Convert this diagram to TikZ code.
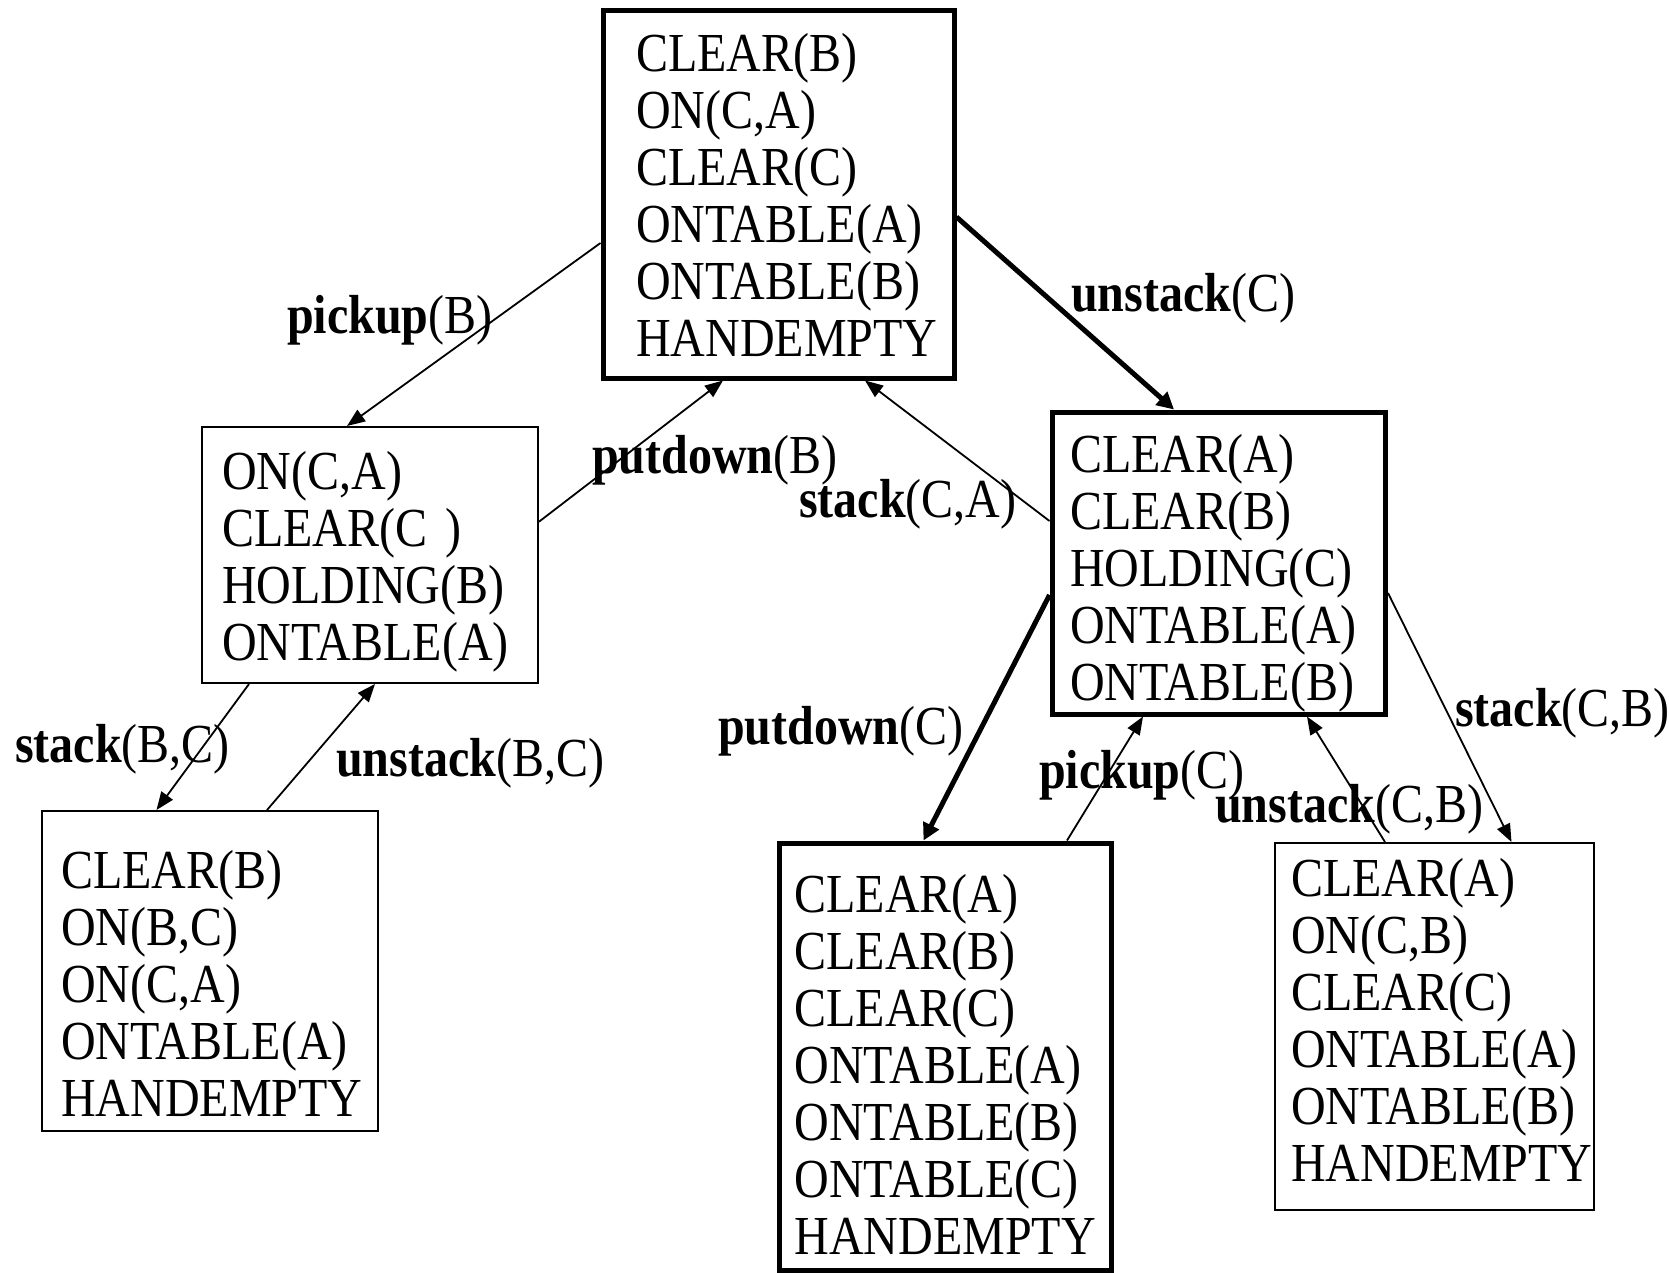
\documentclass[tikz,border=0pt]{standalone}
\usepackage{fontspec}
\setmainfont{Liberation Serif}[FakeStretch=0.873]
\usetikzlibrary{arrows.meta}
\hyphenpenalty=10000
\exhyphenpenalty=10000
\begin{document}
\begin{tikzpicture}[x=1pt,y=-1pt,
  every node/.style={font=\fontsize{55}{57}\selectfont},
  world/.style={draw, rectangle, anchor=base west, align=left, inner ysep=0pt},
  thinbox/.style={line width=2pt},
  thickbox/.style={line width=5pt},
  thinarrow/.style={line width=1.8pt, -{Triangle[length=18pt,width=14pt]}},
  thickarrow/.style={line width=5pt, -{Triangle[length=17pt,width=17pt]}},
  lbl/.style={anchor=base west, inner sep=0pt}]
% page
\fill[white] (0,0) rectangle (1669,1273);
\useasboundingbox (0,0) rectangle (1669,1273);

% states
\node[world, thickbox, inner xsep=33pt, text width=285pt, text height=61pt, text depth=306pt]
  (s0) at (600.5,72) {CLEAR(B)\\ON(C,A)\\CLEAR(C)\\ONTABLE(A)\\ONTABLE(B)\\HANDEMPTY};
\node[world, thinbox, inner xsep=20pt, text width=296pt, text height=62pt, text depth=194pt]
  (s1) at (201,489) {ON(C,A)\\CLEAR(C )\\HOLDING(B)\\ONTABLE(A)};
\node[world, thinbox, inner xsep=19pt, text width=298pt, text height=77pt, text depth=243pt]
  (s2) at (41,888) {CLEAR(B)\\ON(B,C)\\ON(C,A)\\ONTABLE(A)\\HANDEMPTY};
\node[world, thickbox, inner xsep=18pt, text width=297.5pt, text height=60pt, text depth=242pt]
  (s3) at (1049.5,472) {CLEAR(A)\\CLEAR(B)\\HOLDING(C)\\ONTABLE(A)\\ONTABLE(B)};
\node[world, thickbox, inner xsep=15.5pt, text width=301.5pt, text height=69pt, text depth=358pt]
  (s4) at (776.5,912) {CLEAR(A)\\CLEAR(B)\\CLEAR(C)\\ONTABLE(A)\\ONTABLE(B)\\ONTABLE(C)\\HANDEMPTY};
\node[world, thinbox, inner xsep=16.5pt, text width=286pt, text height=53pt, text depth=314pt]
  (s5) at (1273.5,896) {CLEAR(A)\\ON(C,B)\\CLEAR(C)\\ONTABLE(A)\\ONTABLE(B)\\HANDEMPTY};

% transitions
\draw[thinarrow]  ([yshift=-234.5pt]s0.north west) -- ([xshift=146pt]s1.north west);
\draw[thinarrow]  ([yshift=-95.7pt]s1.north east) -- ([xshift=122.5pt]s0.south west);
\draw[thickarrow] ([yshift=-208.5pt]s0.north east) -- ([xshift=124.5pt]s3.north west);
\draw[thinarrow]  ([yshift=-111.5pt]s3.north west) -- ([xshift=264.5pt]s0.south west);
\draw[thinarrow]  ([xshift=48pt]s1.south west) -- ([xshift=115.5pt]s2.north west);
\draw[thinarrow]  ([xshift=226pt]s2.north west) -- ([xshift=174pt]s1.south west);
\draw[thickarrow] ([yshift=-185.5pt]s3.north west) -- ([xshift=147pt]s4.north west);
\draw[thinarrow]  ([xshift=290.5pt]s4.north west) -- ([xshift=93.5pt]s3.south west);
\draw[thinarrow]  ([xshift=111.5pt]s5.north west) -- ([xshift=257.5pt]s3.south west);
\draw[thinarrow]  ([yshift=-183.5pt]s3.north east) -- ([xshift=238pt]s5.north west);

% action labels
\node[lbl] (lpickupB)    at (287,333)  {\textbf{pickup}(B)};
\node[lbl] (lputdownB)   at (592,473)  {\textbf{putdown}(B)};
\node[lbl] (lunstackC)   at (1071,311) {\textbf{unstack}(C)};
\node[lbl] (lstackCA)    at (799,517)  {\textbf{stack}(C,A)};
\node[lbl] (lstackBC)    at (15,762)   {\textbf{stack}(B,C)};
\node[lbl] (lunstackBC)  at (336,776)  {\textbf{unstack}(B,C)};
\node[lbl] (lputdownC)   at (718,744)  {\textbf{putdown}(C)};
\node[lbl] (lpickupC)    at (1039,788) {\textbf{pickup}(C)};
\node[lbl] (lstackCB)    at (1455,726) {\textbf{stack}(C,B)};
\node[lbl] (lunstackCB)  at (1215,822) {\textbf{unstack}(C,B)};
\end{tikzpicture}
\end{document}
